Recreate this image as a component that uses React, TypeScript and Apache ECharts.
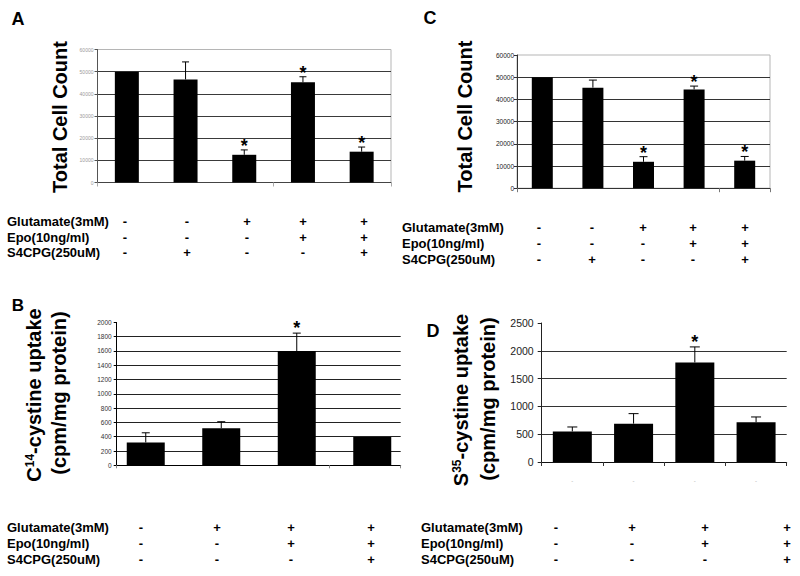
import React, { useEffect, useRef } from 'react';
import * as echarts from 'echarts';

const FONT = '"Liberation Sans", Arial, Helvetica, sans-serif';

// ---- data ----
const categoriesAC = ['Control', 'S4CPG', 'Glutamate', 'Glutamate+Epo', 'Glutamate+Epo+S4CPG'];
const categoriesBD = ['Control', 'Glutamate', 'Glutamate+Epo', 'Glutamate+Epo+S4CPG'];

const valuesA = [50000, 46500, 12500, 45200, 13900];
const errTopA = [null, 54400, 14700, 47700, 16000];
const starsA = [false, false, true, true, true];

const valuesC = [50000, 45300, 11900, 44500, 12400];
const errTopC = [null, 48700, 14200, 46000, 14300];
const starsC = [false, false, true, true, true];

const valuesB = [320, 520, 1600, 395];
const errTopB = [455, 610, 1850, null];
const starsB = [false, false, true, false];

const valuesD = [550, 690, 1790, 715];
const errTopD = [630, 870, 2070, 810];
const starsD = [false, false, true, false];

const conditionLabels = ['Glutamate(3mM)', 'Epo(10ng/ml)', 'S4CPG(250uM)'];
const signsAC = [
  ['-', '-', '+', '+', '+'],
  ['-', '-', '-', '+', '+'],
  ['-', '+', '-', '-', '+'],
];
const signsBD = [
  ['-', '+', '+', '+'],
  ['-', '-', '+', '+'],
  ['-', '-', '-', '+'],
];

const titleAC = 'Total Cell Count';
const titleB = ['C{sup|14}-cystine uptake', '(cpm/mg protein)'];
const titleD = ['S{sup|35}-cystine uptake', '(cpm/mg protein)'];

function makeErrRender(capHalf: number, starGap: number) {
  return (params: any, api: any) => {
    const i = api.value(0);
    const v = api.value(1);
    const e = api.value(2);
    const s = api.value(3);
    const base = api.coord([i, v]);
    const top = api.coord([i, e]);
    const children: any[] = [];
    if (e > v) {
      children.push({
        type: 'line',
        shape: { x1: base[0], y1: base[1], x2: top[0], y2: top[1] },
        style: { stroke: '#000', lineWidth: 1 },
      });
      children.push({
        type: 'line',
        shape: { x1: top[0] - capHalf, y1: top[1], x2: top[0] + capHalf, y2: top[1] },
        style: { stroke: '#000', lineWidth: 1 },
      });
    }
    if (s) {
      children.push({
        type: 'text',
        x: top[0],
        y: top[1] - starGap,
        style: {
          text: '*',
          font: `bold 18px ${FONT}`,
          fill: '#000',
          align: 'center',
          verticalAlign: 'middle',
        },
      });
    }
    return { type: 'group', children };
  };
}

function errData(vals: number[], errs: (number | null)[], stars: boolean[]) {
  return vals.map((v, i) => [i, v, errs[i] == null ? v : errs[i], stars[i] ? 1 : 0]);
}

function txt(x: number, y: number, text: string, size: number, opts: any = {}) {
  return {
    type: 'text',
    x,
    y,
    rotation: opts.rotation || 0,
    silent: true,
    style: {
      text,
      font: `${opts.weight || 'bold'} ${size}px ${FONT}`,
      fill: opts.color || '#000',
      align: opts.align || 'center',
      textAlign: opts.align || 'center',
      verticalAlign: 'middle',
      textVerticalAlign: 'middle',
      rich: opts.rich,
    },
  };
}

function table(labelX: number, rowYs: number[], signXs: number[], signs: string[][]) {
  const els: any[] = [];
  conditionLabels.forEach((lab, r) => {
    els.push(txt(labelX, rowYs[r], lab, 13, { align: 'left' }));
    signs[r].forEach((s, c) => {
      els.push(txt(signXs[c], rowYs[r], s, 13));
    });
  });
  return els;
}

const labelFmt = (v: number) => String(v);

function valueAxis(gridIndex: number, max: number, interval: number, o: any) {
  return {
    type: 'value',
    gridIndex,
    min: 0,
    max,
    interval,
    axisLine: { show: true, lineStyle: { color: o.axisColor || '#333', width: 1 } },
    axisTick: { show: true, length: o.tickLen || 3, lineStyle: { color: o.axisColor || '#333' } },
    axisLabel: {
      show: true,
      fontSize: o.fontSize,
      color: o.labelColor,
      margin: o.margin,
      fontFamily: FONT,
      formatter: labelFmt,
    },
    splitLine: {
      show: true,
      showMaxLine: false,
      showMinLine: false,
      lineStyle: { color: o.gridColor || '#333', width: 1 },
    },
  };
}

function catAxis(gridIndex: number, data: string[], o: any) {
  return {
    type: 'category',
    gridIndex,
    data,
    boundaryGap: true,
    axisLine: { show: true, lineStyle: { color: o.axisColor || '#333', width: 1 } },
    axisTick: { show: o.tick !== false, length: o.tickLen || 4, lineStyle: { color: o.tickColor || '#999' } },
    axisLabel: o.label || { show: false },
    splitLine: { show: false },
  };
}

export default function App() {
  const ref = useRef<HTMLDivElement>(null);
  useEffect(() => {
    if (!ref.current) return;
    const chart = echarts.init(ref.current, null, { renderer: 'svg' });
    const sup = { fontSize: 12, fontWeight: 'bold', fontFamily: FONT, verticalAlign: 'top' };
    const option: any = {
      animation: false,
      backgroundColor: '#fff',
      grid: [
        { left: 97.5, top: 49.5, width: 293.5, height: 133, show: true, borderColor: '#b5b5b5', borderWidth: 1 },
        { left: 517, top: 55, width: 253, height: 133.2, show: true, borderColor: '#b5b5b5', borderWidth: 1 },
        { left: 116.7, top: 322.4, width: 284, height: 142.9 },
        { left: 108, top: 322.4, width: 302, height: 142.9 },
        { left: 541.7, top: 323, width: 245, height: 139 },
      ],
      xAxis: [
        catAxis(0, categoriesAC, { axisColor: '#444', tickColor: '#aaa' }),
        catAxis(1, categoriesAC, { axisColor: '#333', tickColor: '#777' }),
        catAxis(2, categoriesBD, { axisColor: '#000', tickColor: '#888', tickLen: 3 }),
        { type: 'category', gridIndex: 3, data: categoriesBD, show: false },
        catAxis(4, categoriesBD, {
          axisColor: '#111',
          tickColor: '#333',
          tickLen: 4,
          label: { show: true, fontSize: 6, color: '#aaa', margin: 16, formatter: () => '-' },
        }),
      ],
      yAxis: [
        valueAxis(0, 60000, 10000, { fontSize: 5, labelColor: '#9a9a9a', margin: 4, axisColor: '#555', gridColor: '#3a3a3a' }),
        valueAxis(1, 60000, 10000, { fontSize: 6.5, labelColor: '#222', margin: 3, axisColor: '#333', gridColor: '#333' }),
        valueAxis(2, 2000, 200, { fontSize: 6.5, labelColor: '#333', margin: 5, axisColor: '#000', gridColor: '#222' }),
        { type: 'value', gridIndex: 3, min: 0, max: 2000, show: false },
        valueAxis(4, 2500, 500, { fontSize: 10.5, labelColor: '#222', margin: 8, axisColor: '#222', gridColor: '#333', tickLen: 4 }),
      ],
      series: [
        { type: 'bar', xAxisIndex: 0, yAxisIndex: 0, data: valuesA, barWidth: 24, itemStyle: { color: '#000' }, z: 2 },
        { type: 'custom', xAxisIndex: 0, yAxisIndex: 0, data: errData(valuesA, errTopA, starsA), renderItem: makeErrRender(3.5, 4), z: 3 },
        { type: 'bar', xAxisIndex: 1, yAxisIndex: 1, data: valuesC, barWidth: 21, itemStyle: { color: '#000' }, z: 2 },
        { type: 'custom', xAxisIndex: 1, yAxisIndex: 1, data: errData(valuesC, errTopC, starsC), renderItem: makeErrRender(4, 4), z: 3 },
        { type: 'bar', xAxisIndex: 3, yAxisIndex: 3, data: valuesB, barWidth: 38, itemStyle: { color: '#000' }, z: 2 },
        { type: 'custom', xAxisIndex: 3, yAxisIndex: 3, data: errData(valuesB, errTopB, starsB), renderItem: makeErrRender(4, 5), z: 3 },
        { type: 'bar', xAxisIndex: 4, yAxisIndex: 4, data: valuesD, barWidth: 39, itemStyle: { color: '#000' }, z: 2 },
        { type: 'custom', xAxisIndex: 4, yAxisIndex: 4, data: errData(valuesD, errTopD, starsD), renderItem: makeErrRender(5, 5), z: 3 },
      ],
      graphic: [
        // panel letters
        txt(18, 19, 'A', 18),
        txt(18, 305, 'B', 17),
        txt(430, 18, 'C', 18),
        txt(433, 331, 'D', 18),
        // axis titles
        txt(60, 117, titleAC, 20, { rotation: Math.PI / 2 }),
        txt(465, 116.5, titleAC, 20, { rotation: Math.PI / 2 }),
        txt(34, 395, titleB[0], 20, { rotation: Math.PI / 2, rich: { sup } }),
        txt(59, 393, titleB[1], 20, { rotation: Math.PI / 2 }),
        txt(461, 400, titleD[0], 20, { rotation: Math.PI / 2, rich: { sup } }),
        txt(488, 399, titleD[1], 20, { rotation: Math.PI / 2 }),
        // condition tables
        ...table(7, [221.7, 237.3, 252.7], [125, 187, 247, 303, 364], signsAC),
        ...table(402, [227.7, 243.3, 259.5], [539, 592, 643, 693, 745], signsAC),
        ...table(7, [527.3, 543.3, 559], [141, 217, 291, 371], signsBD),
        ...table(421, [527.3, 543.3, 559], [556, 632, 705, 787], signsBD),
      ],
    };
    chart.setOption(option);
    return () => chart.dispose();
  }, []);
  return (
    <div
      ref={ref}
      style={{ position: 'absolute', left: 0, top: 0, width: 800, height: 576, background: '#fff' }}
    />
  );
}
